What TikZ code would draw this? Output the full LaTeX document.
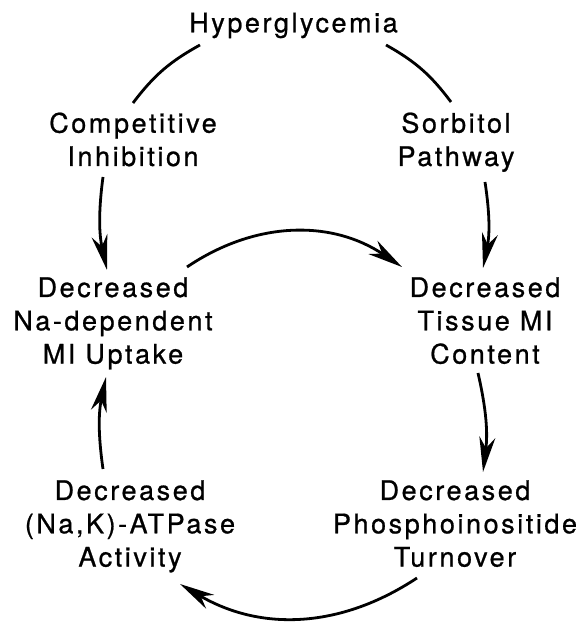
\documentclass[tikz,border=0pt]{standalone}
\usepackage{fontspec}
\setmainfont{TeX Gyre Heros}[LetterSpace=9.5,FakeBold=0.8]
\usetikzlibrary{arrows.meta}
\newcommand\cyclab[1]{\begin{tabular}[t]{@{}c@{}}#1\end{tabular}}
\begin{document}
\begin{tikzpicture}[x=1pt,y=1pt,
  lab/.style={inner sep=0pt, anchor=base, font=\fontsize{27}{33.3}\selectfont},
  conn/.style={line width=2.8pt},
  arr/.style={conn, -{Stealth[length=35pt,width=16pt,inset=11pt]}}]
\useasboundingbox (0,0) rectangle (584,622);
\node[lab] (hyper) at (293.5,589.7) {Hyperglycemia};
\node[lab] (comp) at (133,489.3) {\cyclab{Competitive\\Inhibition}};
\node[lab] (sorb) at (456,489.3) {\cyclab{Sorbitol\\Pathway}};
\node[lab] (upt) at (113,325) {\cyclab{Decreased\\Na-dependent\\MI Uptake}};
\node[lab] (tis) at (485,325) {\cyclab{Decreased\\Tissue MI\\Content}};
\node[lab] (atp) at (130,122) {\cyclab{Decreased\\(Na,K)-ATPase\\Activity}};
\node[lab] (pho) at (455,122) {\cyclab{Decreased\\Phosphoinositide\\Turnover}};
% top lines
\draw[conn] ([shift={(-93.5,-12.7)}]hyper.base) to[bend right=12] ([shift={(0,29.7)}]comp.base);
\draw[conn] ([shift={(92.5,-12.7)}]hyper.base) to[bend left=12] ([shift={(-5,30.7)}]sorb.base);
% arrows down
\draw[arr] ([shift={(-30,-44.3)}]comp.base) to[bend right=10] ([shift={(-6,27)}]upt.base);
\draw[arr] ([shift={(29,-49.3)}]sorb.base) to[bend left=10] ([shift={(-2,29)}]tis.base);
% middle arc
\draw[arr] ([shift={(74,30)}]upt.base) to[bend left=34] ([shift={(-83,30)}]tis.base);
% right down
\draw[arr] ([shift={(-7,-76)}]tis.base) to[bend left=10] ([shift={(28,28)}]pho.base);
% bottom arc
\draw[arr] ([shift={(-38,-78)}]pho.base) to[bend left=32] ([shift={(50,-84)}]atp.base);
% left up
\draw[arr] ([shift={(-27,31)}]atp.base) to[bend left=10] ([shift={(-7,-80)}]upt.base);
\end{tikzpicture}
\end{document}
